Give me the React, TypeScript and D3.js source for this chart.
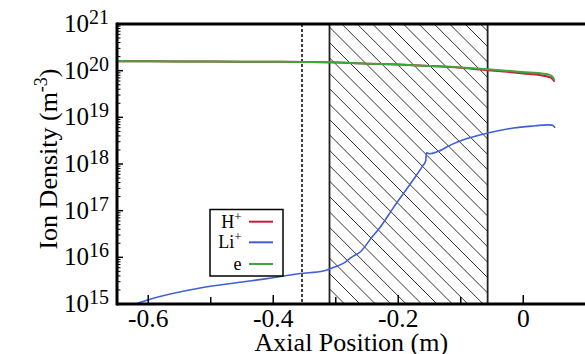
import * as d3 from 'd3';

// axial position (m) and densities (m^-3)
const eX = [-0.65, -0.55, -0.45, -0.4, -0.35, -0.31, -0.25, -0.2, -0.15, -0.1, -0.057, -0.02, 0.01, 0.03, 0.04, 0.046, 0.05];
const eDensity = [1.585e20, 1.58e20, 1.55e20, 1.55e20, 1.53e20, 1.51e20, 1.41e20, 1.35e20, 1.26e20, 1.17e20, 1.07e20, 9.8e19, 9.1e19, 8.7e19, 8.3e19, 7.6e19, 6.3e19];
const hDensity = [1.585e20, 1.58e20, 1.55e20, 1.55e20, 1.53e20, 1.51e20, 1.41e20, 1.35e20, 1.26e20, 1.15e20, 1.02e20, 9.3e19, 8.5e19, 7.9e19, 7.4e19, 6.8e19, 5.8e19];

const liX = [-0.62, -0.6, -0.517, -0.45, -0.41, -0.357, -0.32, -0.305, -0.288, -0.275, -0.261, -0.24, -0.232, -0.208, -0.176, -0.162, -0.156, -0.155, -0.15, -0.138, -0.115, -0.09, -0.057, -0.016, 0.02, 0.038, 0.046, 0.051];
const liDensity = [1.0e15, 1.23e15, 2.2e15, 2.95e15, 3.5e15, 4.5e15, 5.1e15, 6.0e15, 7.4e15, 1.0e16, 1.3e16, 2.95e16, 3.9e16, 1.15e17, 4.6e17, 8.7e17, 1.17e18, 1.74e18, 1.66e18, 1.82e18, 2.6e18, 3.5e18, 4.6e18, 5.9e18, 6.6e18, 6.9e18, 6.8e18, 6.0e18];

const xTicks = [-0.6, -0.4, -0.2, 0];
const xTickLabels = ['-0.6', '-0.4', '-0.2', '0'];
const xMinorTicks = [-0.5, -0.3, -0.1];
const yExponents = [15, 16, 17, 18, 19, 20, 21];

const dottedX = -0.354;
const hatchRange = [-0.31, -0.057];

const seriesNames = ['H', 'Li', 'e'];
const seriesSup = ['+', '+', ''];
const seriesColors = ['#c41e3a', '#3f5fd6', '#3da63d'];

const W = 585;
const H = 354;
const serif = { fontFamily: 'Liberation Serif' };

const left = 117;
const top = 24;
const bottom = 304;
const x = d3.scaleLinear().domain([-0.65, 0.1]).range([left, 585.75]);
const y = d3.scaleLog().domain([1e15, 1e21]).range([bottom, top]);

const line = d3.line<[number, number]>()
  .x((d) => x(d[0]))
  .y((d) => y(d[1]))
  .curve(d3.curveMonotoneX);

export default function App() {
  const hx0 = x(hatchRange[0]);
  const hx1 = x(hatchRange[1]);
  const ph = bottom - top;
  const step = 15.4;
  const start = hx0 - ph - 20;
  const phase = ((335 - top) - start) % step;
  const hatchOffsets = d3.range(start, hx1 + 20, step).map((c) => c + phase);

  const series: [number[], number[], string, number][] = [
    [eX, hDensity, seriesColors[0], 2],
    [eX, eDensity, seriesColors[2], 2],
    [liX, liDensity, seriesColors[1], 1.6],
  ];

  const minorY: number[] = [];
  yExponents.slice(0, -1).forEach((e) => {
    d3.range(2, 10).forEach((m) => minorY.push(m * Math.pow(10, e)));
  });

  const rowY = [221.7, 242.3, 264];

  return (
    <div style={{ position: 'fixed', left: 0, top: 0, width: W, height: H, background: '#fff' }}>
      <svg width={W} height={H} style={{ display: 'block' }}>
        <defs>
          <clipPath id="plotclip">
            <rect x={left} y={top} width={x(0.1) - left} height={ph} />
          </clipPath>
          <clipPath id="hatchclip">
            <rect x={hx0} y={top} width={hx1 - hx0} height={ph} />
          </clipPath>
        </defs>

        {/* hatched region */}
        <g clipPath="url(#hatchclip)">
          {hatchOffsets.map((c, i) => (
            <line key={i} x1={c} y1={top} x2={c + ph} y2={bottom} stroke="#333" strokeWidth={1} />
          ))}
        </g>
        <rect x={hx0} y={top} width={hx1 - hx0} height={ph} fill="none" stroke="#222" strokeWidth={1.8} />

        {/* dotted marker */}
        <line x1={x(dottedX)} x2={x(dottedX)} y1={top} y2={bottom} stroke="#111" strokeWidth={1.6} strokeDasharray="3,2" />

        <g clipPath="url(#plotclip)">
          {series.map(([xs, ys, c, w], i) => (
            <path key={i} d={line(xs.map((v, j) => [v, ys[j]] as [number, number])) || ''}
              fill="none" stroke={c} strokeWidth={w} />
          ))}
        </g>

        {/* frame */}
        <g stroke="#000" strokeWidth={3}>
          <line x1={left} x2={W} y1={top} y2={top} />
          <line x1={left} x2={W} y1={bottom} y2={bottom} />
          <line x1={left} x2={left} y1={top - 1.5} y2={bottom + 1.5} />
        </g>

        {/* ticks */}
        <g stroke="#000" strokeWidth={1.5}>
          {xTicks.map((t) => (
            <line key={t} x1={x(t)} x2={x(t)} y1={bottom} y2={bottom - 9} />
          ))}
          {xMinorTicks.map((t) => (
            <line key={t} x1={x(t)} x2={x(t)} y1={bottom} y2={bottom - 7} />
          ))}
          {yExponents.map((e) => (
            <line key={e} x1={left} x2={left + 6} y1={y(Math.pow(10, e))} y2={y(Math.pow(10, e))} />
          ))}
          {minorY.map((v, i) => (
            <line key={i} x1={left} x2={left + 3.5} y1={y(v)} y2={y(v)} strokeWidth={1} />
          ))}
        </g>

        {/* tick labels */}
        {xTicks.map((t, i) => (
          <text key={t} x={x(t)} y={327} textAnchor="middle" fontSize={25.5} style={serif}>{xTickLabels[i]}</text>
        ))}
        {yExponents.map((e) => (
          <text key={e} x={109} y={y(Math.pow(10, e)) + 8} textAnchor="end" fontSize={25} style={serif}>
            <tspan>10</tspan>
            <tspan fontSize={20} dy={-8}>{e}</tspan>
          </text>
        ))}

        <text x={(left + 585.75) / 2} y={351} textAnchor="middle" fontSize={26} style={serif}>Axial Position (m)</text>
        <text transform="translate(57,159) rotate(-90)" textAnchor="middle" fontSize={26} style={serif}>
          <tspan>Ion Density (m</tspan>
          <tspan fontSize={18} dy={-10}>-3</tspan>
          <tspan dy={10}>)</tspan>
        </text>

        {/* legend */}
        <rect x={210} y={209.5} width={73} height={66.5} fill="#fff" stroke="#000" strokeWidth={1.5} />
        {seriesNames.map((n, i) => (
          <g key={n}>
            <text x={241.5} y={rowY[i] + 6} textAnchor="end" fontSize={18} style={serif}>
              <tspan>{n}</tspan>
              {seriesSup[i] ? <tspan fontSize={13} dy={-7}>{seriesSup[i]}</tspan> : null}
            </text>
            <line x1={249} x2={273} y1={rowY[i]} y2={rowY[i]} stroke={seriesColors[i]} strokeWidth={2} />
          </g>
        ))}
      </svg>
    </div>
  );
}
